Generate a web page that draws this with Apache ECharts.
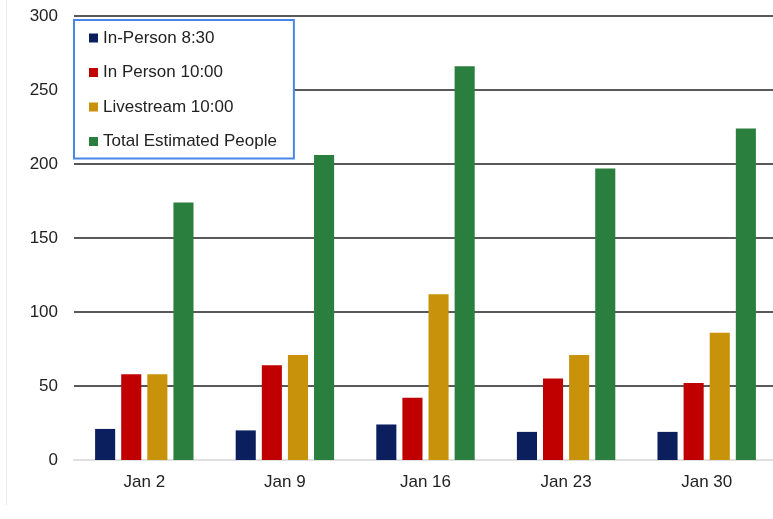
<!DOCTYPE html>
<html><head><meta charset="utf-8">
<script src="https://cdn.jsdelivr.net/npm/echarts@6/dist/echarts.min.js"></script>
<style>html,body{margin:0;padding:0;background:#fff}#c{width:773px;height:519px}</style>
</head><body><div id="c"></div>
<script>
const categories = ['Jan 2', 'Jan 9', 'Jan 16', 'Jan 23', 'Jan 30'];
const inPerson830 = [21, 20, 24, 19, 19];
const inPerson1000 = [58, 64, 42, 55, 52];
const livestream1000 = [58, 71, 112, 71, 86];
const totalPeople = [174, 206, 266, 197, 224];
const seriesNames = ['In-Person 8:30', 'In Person 10:00', 'Livestream 10:00', 'Total Estimated People'];
const colors = ['#0b1f5e', '#c00000', '#c8920a', '#2a7f3f'];

const font = 'Liberation Sans, Arial, sans-serif';
const chart = echarts.init(document.getElementById('c'));
const dataSets = [inPerson830, inPerson1000, livestream1000, totalPeople];
chart.setOption({
  animation: false,
  color: colors,
  textStyle: { fontFamily: font },
  graphic: [{
    type: 'line', shape: { x1: 6.5, y1: 0, x2: 6.5, y2: 505 },
    style: { stroke: '#eeeeee', lineWidth: 1 }, silent: true
  }],
  grid: { left: 74, top: 16, width: 703, height: 444, outerBoundsMode: 'none', containLabel: false },
  legend: {
    orient: 'vertical', left: 74, top: 20,
    backgroundColor: '#fff', borderColor: '#4a86e8', borderWidth: 2,
    padding: [8, 17, 7, 15],
    itemWidth: 9, itemHeight: 9, itemGap: 14.5, icon: 'rect',
    textStyle: { fontSize: 17, color: '#222', fontFamily: font, lineHeight: 20 },
    data: seriesNames
  },
  xAxis: {
    type: 'category', data: categories,
    axisLine: { lineStyle: { color: '#e0e0e0', width: 2 } },
    axisTick: { show: false },
    axisLabel: { fontSize: 17, color: '#222', margin: 14, fontFamily: font }
  },
  yAxis: {
    type: 'value', min: 0, max: 300, interval: 50,
    axisLine: { show: false }, axisTick: { show: false },
    axisLabel: { fontSize: 17, color: '#222', margin: 16, fontFamily: font },
    splitLine: { lineStyle: { color: ['#e0e0e0', '#222', '#222', '#222', '#222', '#222', '#222'], width: 1.6 } }
  },
  series: seriesNames.map((n, i) => ({
    name: n, type: 'bar', data: dataSets[i],
    barGap: '30%', barCategoryGap: '30%', z: 3
  }))
});
</script></body></html>
